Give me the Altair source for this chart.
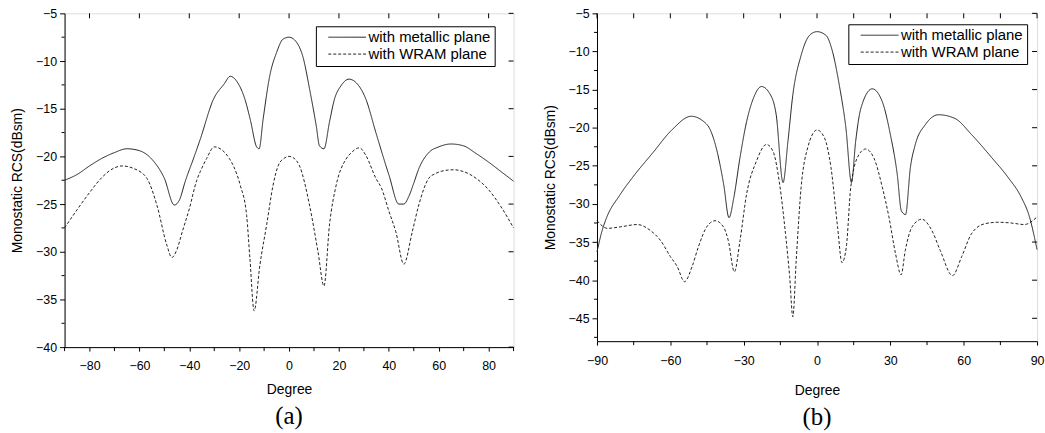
import altair as alt
import pandas as pd

SERIES = ["with metallic plane", "with WRAM plane"]

# ---- panel (a) ----
a_met_x = [-90, -85, -80, -75, -70, -65, -60, -55, -50, -46, -44, -41.6, -38, -35.6, -30.3, -26, -23.6, -20.3, -17.7,
           -15.5, -13, -12, -10.4, -7.7, -5, -2.4, 0, 2.9, 5.6, 8.2, 10.9, 12.2, 14, 16.2, 18.2, 20.8, 24, 27, 30.8,
           34.8, 40.1, 44, 46, 48, 50, 52, 56, 60, 65, 70, 75, 80, 85, 90]
a_met_y = [-22.5, -21.9, -21.0, -20.2, -19.6, -19.2, -19.4, -20.3, -22.3, -25.1, -24.6, -22.6, -20.0, -18.2, -14.0, -12.4,
           -11.6, -12.4, -14.0, -16.2, -19.0, -19.2, -16.1, -11.5, -9.1, -7.7, -7.5, -8.0, -9.6, -12.9, -16.8, -18.9,
           -19.2, -16.4, -14.0, -12.6, -11.9, -12.3, -14.0, -17.5, -22.0, -25.0, -25.0, -24.2, -22.8, -21.3, -19.6,
           -19.0, -18.7, -18.9, -19.7, -20.6, -21.6, -22.6]
a_wram_x = [-90, -85, -80, -75, -70, -67, -62, -57, -53, -49, -47, -45, -42.8, -40, -37, -35.6, -33, -30, -27, -24,
            -22.3, -19.6, -17, -15.7, -14, -11.7, -9, -6.4, -4.4, -2, 0, 2, 4.2, 8.2, 11.6, 14, 16.2, 18.9, 22.8, 25,
            28.2, 30.8, 34.8, 37, 40.1, 42.8, 46, 49.4, 52, 56, 58.7, 62, 66, 70, 75, 80, 85, 90]
a_wram_y = [-27.5, -25.6, -23.8, -22.2, -21.2, -21.0, -21.3, -22.3, -25.1, -29.3, -30.6, -29.8, -27.9, -25.5, -22.5,
            -21.6, -20.2, -19.0, -19.3, -20.2, -21.0, -23.0, -26.2, -30.7, -36.2, -31.4, -27.2, -23.0, -21.0, -20.2,
            -20.0, -20.2, -21.0, -25.1, -30.0, -33.6, -27.2, -23.0, -20.3, -19.6, -19.1, -19.9, -22.3, -23.3, -25.8,
            -27.9, -31.3, -27.9, -25.1, -22.3, -21.8, -21.5, -21.4, -21.6, -22.3, -23.5, -25.3, -27.5]

# ---- panel (b) ----
b_met_x = [-90, -88, -86.2, -80.8, -75.4, -67.2, -59.1, -51.5, -45, -41.6, -38.2, -36, -34, -31.5, -28.8, -26.1, -22.7,
           -19.4, -16.7, -13.9, -11.9, -9.9, -6.5, -3.1, 0, 3.7, 6.4, 9.1, 11.8, 14.1, 15.8, 17.9, 22.6, 26.7, 30,
           32.8, 34.5, 36.2, 38.2, 40.2, 44.3, 49.7, 56.5, 63.2, 71.4, 78.1, 83.5, 86.9, 90]
b_met_y = [-36.3, -33.6, -31.9, -28.9, -26.5, -23.3, -20.2, -18.5, -19.6, -22.2, -27.4, -31.8, -29.1, -23.9, -19.2,
           -16.2, -14.6, -15.5, -18.3, -27.2, -21.8, -15.7, -10.5, -7.9, -7.4, -7.9, -10.1, -14.4, -20.0, -27.2, -21.8,
           -17.5, -14.9, -16.6, -20.9, -26.1, -30.9, -31.4, -25.2, -22.2, -19.6, -18.3, -18.8, -20.9, -23.9, -26.5,
           -29.1, -31.7, -36.0]
b_wram_x = [-90, -85.7, -80.3, -73.5, -68.1, -64, -60, -57.2, -54.2, -51.1, -48.5, -45.1, -41.7, -38.3, -36.3, -33.8,
            -31.5, -28.8, -24.8, -20.7, -18, -15.3, -12.9, -11.2, -9.9, -8.5, -6.5, -3.8, 0, 3, 5.7, 8.4, 10.2, 12,
            13.8, 17.2, 19.9, 23.3, 26.7, 29.4, 32.1, 34.4, 36.1, 38.9, 42.9, 47, 50.4, 55.4, 59.2, 63.2, 68.6, 74,
            79.4, 84.8, 90]
b_wram_y = [-32.2, -33.2, -33.0, -32.7, -33.5, -34.8, -36.9, -38.2, -40.2, -38.2, -35.6, -33.0, -32.2, -33.0, -34.8,
            -38.9, -34.8, -28.7, -24.4, -22.2, -23.1, -27.4, -33.9, -39.5, -44.8, -37.3, -27.8, -22.6, -20.3, -21.3,
            -25.2, -33.0, -37.7, -35.6, -27.8, -23.5, -22.8, -24.0, -27.8, -31.7, -36.5, -39.3, -36.1, -33.0, -32.0,
            -33.5, -36.1, -39.4, -36.9, -33.9, -32.6, -32.4, -32.5, -32.7, -31.7]

# ticks
a_x_major = [-80, -60, -40, -20, 0, 20, 40, 60, 80]
a_x_minor = [-90, -70, -50, -30, -10, 10, 30, 50, 70, 90]
a_y_major = [-5, -10, -15, -20, -25, -30, -35, -40]
a_y_minor = [-7.5, -12.5, -17.5, -22.5, -27.5, -32.5, -37.5]
b_x_major = [-90, -60, -30, 0, 30, 60, 90]
b_x_minor = [-75, -45, -15, 15, 45, 75]
b_y_major = [-5, -10, -15, -20, -25, -30, -35, -40, -45]
b_y_minor = [-7.5, -12.5, -17.5, -22.5, -27.5, -32.5, -37.5, -42.5, -47.5]

FONT = "Liberation Sans"
LINE = "#222222"


def long_df(mx, my, wx, wy):
    return pd.DataFrame({
        "deg": list(mx) + list(wx),
        "rcs": list(my) + list(wy),
        "series": [SERIES[0]] * len(mx) + [SERIES[1]] * len(wx),
    })


def panel(df, W, H, ydom, xmaj, xmin, ymaj, ymin, top_x, caption, legx, legy, xlabpad, xtitlepad):
    xs = alt.Scale(domain=[-90, 90], nice=False, zero=False)
    ys = alt.Scale(domain=ydom, nice=False, zero=False)
    xaxis = alt.Axis(values=xmaj, title="Degree", tickSize=4, labelPadding=xlabpad, titlePadding=xtitlepad,
                     grid=False, labelFontSize=12.5, titleFontSize=14, labelFont=FONT, titleFont=FONT,
                     titleFontWeight="normal", labelColor="black", titleColor="black", tickColor="black",
                     domainColor="black", labelFlush=False)
    yaxis = alt.Axis(values=ymaj, title="Monostatic RCS(dBsm)", tickSize=5, labelPadding=3, titlePadding=11,
                     grid=False, labelFontSize=12.5, titleFontSize=14, labelFont=FONT, titleFont=FONT,
                     titleFontWeight="normal", labelColor="black", titleColor="black", tickColor="black",
                     domainColor="black", labelFlush=False)
    lines = alt.Chart(df).mark_line(color=LINE, strokeWidth=1, interpolate="monotone").encode(
        x=alt.X("deg:Q", scale=xs, axis=xaxis),
        y=alt.Y("rcs:Q", scale=ys, axis=yaxis),
        strokeDash=alt.StrokeDash(
            "series:N",
            scale=alt.Scale(domain=SERIES, range=[[1, 0], [3, 2]]),
            legend=alt.Legend(title=None, orient="none", legendX=legx, legendY=legy,
                              strokeColor="black", fillColor="white", padding=4, symbolOffset=8,
                              symbolType="stroke", symbolSize=1444, symbolStrokeWidth=1,
                              symbolStrokeColor=LINE, labelFontSize=15, labelFont=FONT,
                              labelColor="black", labelOffset=2, rowPadding=2, clipHeight=14,
                              labelLimit=300),
        ),
        detail="series:N",
    )
    ax = lambda vals: pd.DataFrame({"v": vals})
    bot_minor = alt.Chart(ax(xmin)).mark_rule(color="black", strokeWidth=1).encode(
        x=alt.X("v:Q", scale=xs), y=alt.value(H), y2=alt.value(H + 4))
    left_minor = alt.Chart(ax(ymin)).mark_rule(color="black", strokeWidth=1).encode(
        y=alt.Y("v:Q", scale=ys), x=alt.value(-3), x2=alt.value(0))
    top_ticks = alt.Chart(ax(top_x)).mark_rule(color="black", strokeWidth=1).encode(
        x=alt.X("v:Q", scale=xs), y=alt.value(0), y2=alt.value(5))
    right_ticks = alt.Chart(ax(ymaj)).mark_rule(color="black", strokeWidth=1).encode(
        y=alt.Y("v:Q", scale=ys), x=alt.value(W - 5), x2=alt.value(W))
    return alt.layer(lines, bot_minor, left_minor, top_ticks, right_ticks).properties(
        width=W, height=H,
        title=alt.TitleParams(caption, orient="bottom", anchor="middle", frame="group",
                              font="Liberation Serif", fontSize=25, fontWeight="normal",
                              color="black", offset=8),
    )


pa = panel(long_df(a_met_x, a_met_y, a_wram_x, a_wram_y), 452, 336, [-40, -5],
           a_x_major, a_x_minor, a_y_major, a_y_minor, a_x_major, "(a)", 253, 13, 9, 10)
pb = panel(long_df(b_met_x, b_met_y, b_wram_x, b_wram_y), 443, 330, [-48, -5],
           b_x_major, b_x_minor, b_y_major, b_y_minor, b_x_major + b_x_minor, "(b)", 253, 11, 10, 16)

chart = alt.hconcat(pa, pb, spacing=26).resolve_scale(strokeDash="independent").properties(
    padding={"left": 10, "top": 5, "right": 0, "bottom": 0}
).configure_view(stroke="black", strokeWidth=1).configure(background="white")

chart.save("out.html", embed_options={"renderer": "svg", "actions": False})
